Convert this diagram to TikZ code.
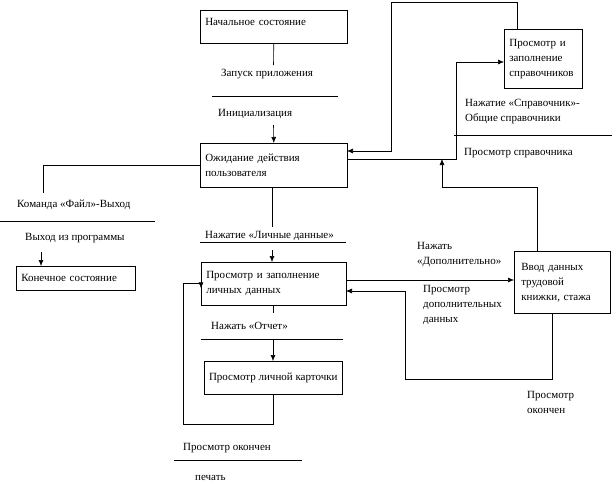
\documentclass[tikz,border=0pt]{standalone}
\usepackage{fontspec}
\setmainfont{Liberation Serif}
\usetikzlibrary{arrows.meta}
\begin{document}
\begin{tikzpicture}[x=1pt,y=-1pt,
  every node/.style={font=\fontsize{11}{15}\selectfont},
  box/.style={draw, line width=0.6pt, anchor=north west, inner xsep=5pt, inner ysep=0pt, align=left},
  lbl/.style={anchor=west, inner sep=0pt, align=left},
  conn/.style={line width=0.6pt},
  arr/.style={line width=0.6pt, -{Latex[length=6pt,width=5pt]}},
  sep/.style={line width=0.6pt}]
\useasboundingbox (0,0) rectangle (612,498);

% boxes
\node[box, text width=137pt, minimum height=33pt, text depth=10pt] (start) at (200,10) {Начальное состояние};
\node[box, text width=137pt, minimum height=44pt] (wait) at (200,143) {Ожидание действия\\пользователя};
\node[box, text width=135pt, minimum height=43pt] (personal) at (201,262) {Просмотр и заполнение\\личных данных};
\node[box, inner xsep=2pt, minimum width=138pt, minimum height=33pt] (card) at (204,361) {Просмотр личной карточки};
\node[box, text width=109pt, minimum height=24pt] (final) at (16,266) {Конечное состояние};
\node[box, text width=68pt, minimum height=59pt] (ref) at (504,29) {Просмотр и\\заполнение\\справочников};
\node[box, inner xsep=7pt, text width=82pt, minimum height=62pt] (work) at (514,251) {Ввод данных\\трудовой\\книжки, стажа};

% labels
\node[lbl] (l1) at (221,74) {Запуск приложения};
\node[lbl] (l2) at (218,114) {Инициализация};
\node[lbl] (l3) at (17,205) {Команда «Файл»-Выход};
\node[lbl] (l4) at (25,238) {Выход из программы};
\node[lbl] (l5) at (205,236) {Нажатие «Личные данные»};
\node[lbl] (l6) at (211,326) {Нажать «Отчет»};
\node[lbl] (l7) at (183,448) {Просмотр окончен};
\node[lbl] (l8) at (195,478) {печать};
\node[lbl] (l9) at (465,111.5) {Нажатие «Справочник»-\\Общие справочники};
\node[lbl] (l10) at (464,153) {Просмотр справочника};
\node[lbl] (l11) at (417,254.5) {Нажать\\«Дополнительно»};
\node[lbl] (l12) at (423,305) {Просмотр\\дополнительных\\данных};
\node[lbl] (l13) at (527,402.5) {Просмотр\\окончен};

% helper coordinates
\coordinate (c1) at (273.5,65);
\coordinate (c2) at (273.5,125);
\coordinate (c3) at (43,193);
\coordinate (c4) at (41,252);
\coordinate (c5) at (272,227);
\coordinate (c6) at (272,250);
\coordinate (c7) at (273,313);
\coordinate (c8) at (273,339);
\coordinate (c9) at (183,424);
\coordinate (c10) at (405,379);
\coordinate (c11) at (391,2);
\coordinate (c12) at (456,62);
\coordinate (c13) at (442,187);
\coordinate (e1) at (347,151);
\coordinate (e2) at (347,159);
\coordinate (e3) at (346,280);
\coordinate (e4) at (346,291);

% separator lines
\coordinate (s1a) at (212,96);  \coordinate (s1b) at (338,96);
\coordinate (s2a) at (0,221);   \coordinate (s2b) at (155,221);
\coordinate (s3a) at (200,242); \coordinate (s3b) at (346,242);
\coordinate (s4a) at (201,339); \coordinate (s4b) at (343,339);
\coordinate (s5a) at (174,460); \coordinate (s5b) at (302,460);
\coordinate (s6a) at (454,135); \coordinate (s6b) at (612,135);
\draw[sep] (s1a) -- (s1b);
\draw[sep] (s2a) -- (s2b);
\draw[sep] (s3a) -- (s3b);
\draw[sep] (s4a) -- (s4b);
\draw[sep] (s5a) -- (s5b);
\draw[sep] (s6a) -- (s6b);

% connectors
\draw[conn] (start.south) -- (c1);
\draw[arr] (c2) -- (wait.north);
\draw[conn] (wait.west) -| (c3);
\draw[arr] (c4) -- (c4 |- final.north);
\draw[conn] (c5 |- wait.south) -- (c5);
\draw[arr] (c6) -- (c6 |- personal.north);
\draw[conn] (c7 |- personal.south) -- (c7);
\draw[arr] (c8) -- (c8 |- card.north);
\draw[arr] (card.south) |- (c9) |- (personal.west |- 0,283) -- ([yshift=-4.5pt]personal.west);
\draw[arr] (e3) -- (e3 -| work.west);
\draw[arr] (work.south -| 552,0) |- (c10) |- (e4);
\draw[arr] (ref.north -| 517,0) |- (c11) |- (e1);
\draw[arr] (e2) -| (c12) -- (c12 -| ref.west);
\draw[arr] (work.north -| 537,0) |- (c13) -- (c13 |- e2);
\end{tikzpicture}
\end{document}
